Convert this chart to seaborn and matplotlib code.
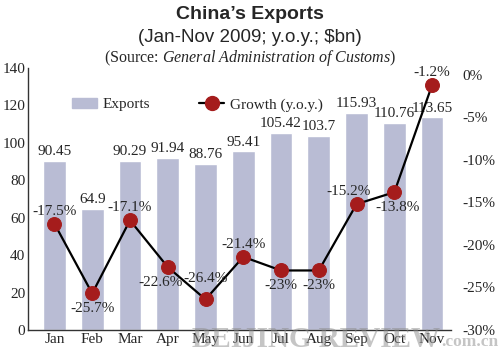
import numpy as np
import pandas as pd
import seaborn as sns
import matplotlib.pyplot as plt
from matplotlib.lines import Line2D
from matplotlib.patches import Patch

# data
months = ['Jan', 'Feb', 'Mar', 'Apr', 'May', 'Jun', 'Jul', 'Aug', 'Sep', 'Oct', 'Nov']
exports = [90.45, 64.9, 90.29, 91.94, 88.76, 95.41, 105.42, 103.7, 115.93, 110.76, 113.65]
growth = [-17.5, -25.7, -17.1, -22.6, -26.4, -21.4, -23, -23, -15.2, -13.8, -1.2]
growth_labels = ['-17.5%', '-25.7%', '-17.1%', '-22.6%', '-26.4%', '-21.4%',
                 '-23%', '-23%', '-15.2%', '-13.8%', '-1.2%']
left_ticks = [0, 20, 40, 60, 80, 100, 120, 140]
right_ticks = [0, -5, -10, -15, -20, -25, -30]

sns.set_style('white')
plt.rcParams['font.family'] = ['Liberation Serif', 'DejaVu Serif']
plt.rcParams['mathtext.fontset'] = 'custom'
plt.rcParams['mathtext.rm'] = 'Liberation Serif'
plt.rcParams['mathtext.it'] = 'Liberation Serif:italic'

bar_color = '#b9bcd4'
dot_color = '#a51c1c'

fig = plt.figure(figsize=(5, 3.56), dpi=100)
ax = fig.add_axes([0.056, 0.073, 0.846, 0.736])

df = pd.DataFrame({'month': months, 'exports': exports})
sns.barplot(data=df, x='month', y='exports', color=bar_color, width=0.6,
            saturation=1, ax=ax)
ax.set_xlim(-0.7, 10.5)
ax.set_ylim(0, 140)
ax.set_yticks(left_ticks)
ax.set_xlabel('')
ax.set_ylabel('')
ax.tick_params(axis='both', labelsize=11, length=0, pad=2)
for s in ['top', 'right']:
    ax.spines[s].set_visible(False)
for s in ['left', 'bottom']:
    ax.spines[s].set_color('#333333')
    ax.spines[s].set_linewidth(1)

# bar value labels
for i, v in enumerate(exports):
    ax.annotate(f'{v:g}', (i, v), xytext=(0, 2), textcoords='offset points',
                ha='center', va='bottom', fontsize=11)

# growth line on a second axis
ax2 = ax.twinx()
sns.lineplot(x=np.arange(len(months)), y=growth, ax=ax2, color='black',
             linewidth=1.6, marker='o', markersize=10,
             markerfacecolor=dot_color, markeredgecolor=dot_color)
ax2.set_ylim(-30, 0.8)
ax2.set_yticks(right_ticks)
ax2.set_yticklabels([f'{t}%' for t in right_ticks])
ax2.tick_params(axis='y', labelsize=11, length=0, pad=8)
for s in ax2.spines.values():
    s.set_visible(False)

# label offsets (points) for each growth value
offsets = [(0, 9), (0, -11), (0, 9), (-5, -11), (0, 15), (0, 9),
           (0, -11), (0, -11), (-6, 9), (2, -11), (0, 9)]
for i, (g, lab) in enumerate(zip(growth, growth_labels)):
    ax2.annotate(lab, (i, g), xytext=offsets[i], textcoords='offset points',
                 ha='center', va='center', fontsize=11)

# legend
handles = [Patch(color=bar_color, label='Exports'),
           Line2D([0], [0], color='black', lw=1.6, marker='o', markersize=10,
                  markerfacecolor=dot_color, markeredgecolor=dot_color,
                  label='Growth (y.o.y.)')]
ax2.legend(handles=handles, loc='center left', bbox_to_anchor=(0.105, 0.86),
           ncol=2, frameon=False, fontsize=11, handlelength=1.6,
           columnspacing=3.2, handletextpad=0.4, borderpad=0, borderaxespad=0)

# titles
fig.text(0.5, 0.958, 'China\u2019s Exports', ha='center', va='center',
         fontsize=14, fontweight='bold', family='Liberation Sans')
fig.text(0.5, 0.895, '(Jan-Nov 2009; y.o.y.; $bn)', ha='center', va='center',
         fontsize=13.5, family='Liberation Sans')
fig.text(0.5, 0.837, '(Source: $\\mathit{General\\ Administration\\ of\\ Customs}$)',
         ha='center', va='center', fontsize=11.5)

# watermark, semi-transparent over the plot
fig.text(0.88, 0.045, 'BEIJING REVIEW', ha='right', va='center', fontsize=21,
         fontweight='bold', color='#8c8c8c', alpha=0.5, zorder=10)
fig.text(0.883, 0.04, '.com.cn', ha='left', va='center', fontsize=12.5,
         fontweight='bold', color='#8c8c8c', alpha=0.5, zorder=10)

fig.savefig('out.png', dpi=100)
